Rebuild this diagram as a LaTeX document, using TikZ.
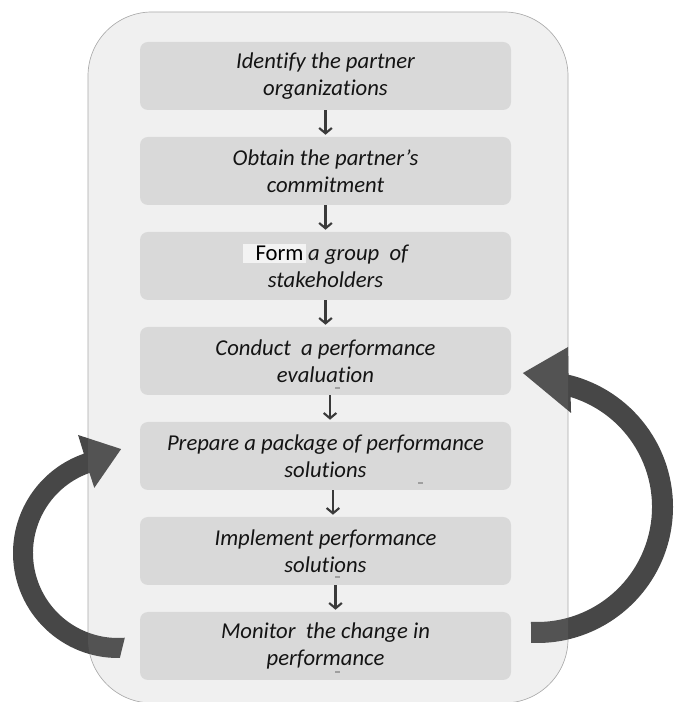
\documentclass[tikz,border=0pt]{standalone}
\usepackage{fontspec}
\setmainfont{Carlito}[Ligatures=NoCommon]
\usetikzlibrary{arrows.meta}
\definecolor{panel}{HTML}{EFEFEF}
\definecolor{panelline}{HTML}{A8A8A8}
\definecolor{stepfill}{HTML}{D9D9D9}
\definecolor{ink}{HTML}{141414}
\definecolor{loopfill}{HTML}{474747}
\definecolor{flowline}{HTML}{3A3A3A}
\definecolor{formbg}{HTML}{F3F3F3}
\begin{document}
\begin{tikzpicture}[x=0.75pt,y=0.75pt,
  stepbox/.style={fill=stepfill, rounded corners=6pt, minimum width=278.25pt,
    minimum height=51pt, inner sep=0pt, align=center,
    font=\fontsize{17}{20.6}\selectfont\itshape, text=ink},
  flow/.style={draw=flowline, line width=1.6pt,
    -{Straight Barb[length=4pt,width=9.5pt]}, shorten >=1.5pt},
  loop/.style={fill=loopfill, draw=none},
  speck/.style={draw=gray!75, line width=0.8pt}]

\useasboundingbox (0,0) rectangle (674,702);

% background panel
\fill[panel, draw=panelline, line width=0.5pt, rounded corners=48pt]
  (88,-1) rectangle (568,690);

% left feedback arrow
\begin{scope}[shift={(118,149)}]
  \fill[loop] (274.6:85) -- (271:105) arc[start angle=271, end angle=109, radius=105]
    -- (108.7:124.6) -- (88.3:104) -- (110:69.3) -- (109.6:85)
    arc[start angle=109.6, end angle=274.6, radius=85] -- cycle;
\end{scope}

% right feedback arrow
\begin{scope}[shift={(537,195)}]
  \fill[loop] (267:115) -- (267.5:136) arc[start angle=267.5, end angle=436.6, radius=136]
    -- (439:163) -- (456:134.7) -- (430.1:100) -- (433:115)
    arc[start angle=433, end angle=267, radius=115] -- cycle;
\end{scope}

% light veil over the panel
\fill[white, fill opacity=0.07, rounded corners=48pt] (88,-1) rectangle (568,690);

% process steps
\node[stepbox] (b1) at (325.5,626) {Identify the partner\\organizations};
\node[stepbox] (b2) at (325.5,531) {Obtain the partner’s\\commitment};
\node[stepbox] (b3) at (325.5,436) {{\setlength{\fboxsep}{1.5pt}\colorbox{formbg}{\hspace*{8pt}\upshape\color{black}Form}}\hspace{2pt}a group \ of\\stakeholders};
\node[stepbox] (b4) at (325.5,341) {Conduct \ a performance\\evaluation};
\node[stepbox] (b5) at (325.5,246) {Prepare a package of performance\\solutions};
\node[stepbox] (b6) at (325.5,151) {Implement performance\\solutions};
\node[stepbox] (b7) at (325.5,56) {Monitor \ the change in\\performance};

% flow between steps
\draw[flow] (b1.south) -- (b2.north);
\draw[flow] (b2.south) -- (b3.north);
\draw[flow] (b3.south) -- (b4.north);
\draw[flow] ([xshift=3.4pt]b4.south) -- ([xshift=3.4pt]b5.north);
\draw[flow] ([xshift=5.6pt]b5.south) -- ([xshift=5.6pt]b6.north);
\draw[flow] ([xshift=7.5pt]b6.south) -- ([xshift=7.5pt]b7.north);

% small leftover marks
\draw[speck] (335,314) -- (340,314);
\draw[speck] (418,219) -- (423,219);
\draw[speck] (335,125) -- (340,125);
\draw[speck] (335,30) -- (340,30);
\end{tikzpicture}
\end{document}
